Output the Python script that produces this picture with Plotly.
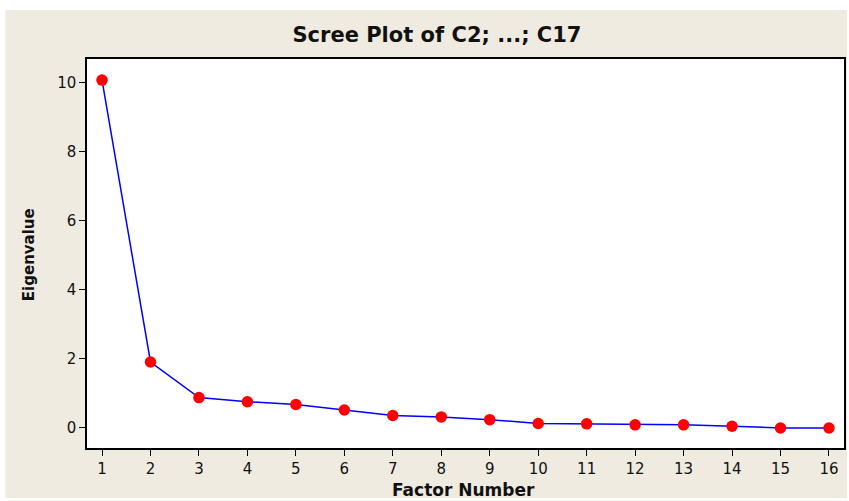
import plotly.graph_objects as go

factor_number = list(range(1, 17))
eigenvalues = [10.07, 1.91, 0.88, 0.76, 0.68, 0.52, 0.36, 0.32, 0.24, 0.13, 0.12, 0.09, 0.09, 0.05, 0.0, 0.0]
x_ticks = list(range(1, 17))
y_ticks = [0, 2, 4, 6, 8, 10]

W, H = 849, 501
L, R, T, B = 87, 3, 59, 53
pw = W - L - R
ph = H - T - B

def px_to_paper_x(px):
    return (px - L) / pw

def px_to_paper_y(py):
    return (H - B - py) / ph

fig = go.Figure()
fig.add_trace(go.Scatter(
    x=factor_number, y=eigenvalues, mode="lines+markers",
    line=dict(color="#0000FF", width=1.5),
    marker=dict(color="#FF0000", size=11.5, line=dict(width=0)),
    showlegend=False, cliponaxis=False,
))

beige = "#EFEBE1"
fig.add_shape(type="rect", xref="paper", yref="paper",
              x0=px_to_paper_x(5), x1=px_to_paper_x(849),
              y0=px_to_paper_y(498), y1=px_to_paper_y(10),
              fillcolor=beige, line=dict(width=0), layer="below")
fig.add_shape(type="rect", xref="paper", yref="paper",
              x0=0, x1=1, y0=0, y1=1,
              fillcolor="white", line=dict(width=0), layer="below")

font_family = "DejaVu Sans, Verdana, sans-serif"
fig.update_layout(
    width=W, height=H,
    margin=dict(l=L, r=R, t=T, b=B),
    paper_bgcolor="white", plot_bgcolor="white",
    title=dict(text="<b>Scree Plot of C2; ...; C17</b>", x=(296 + 578) / 2 / W, xanchor="center",
               y=1 - 35 / H, yanchor="middle",
               font=dict(family=font_family, size=21, color="#111111")),
    font=dict(family=font_family, color="#111111"),
)
fig.add_annotation(text="<b>Factor Number</b>", xref="paper", yref="paper",
                   x=px_to_paper_x(464), y=px_to_paper_y(490), xanchor="center", yanchor="middle",
                   showarrow=False, font=dict(size=17, family=font_family, color="#111111"))
fig.add_annotation(text="<b>Eigenvalue</b>", xref="paper", yref="paper", textangle=-90,
                   x=px_to_paper_x(29), y=px_to_paper_y(255), xanchor="center", yanchor="middle",
                   showarrow=False, font=dict(size=15, family=font_family, color="#111111"))
fig.update_xaxes(
    range=[0.69, 16.31], tickmode="array", tickvals=x_ticks, ticktext=[str(t) for t in x_ticks],
    showgrid=False, zeroline=False, showline=True, linecolor="black", linewidth=1.5, mirror=True,
    ticks="outside", ticklen=6, tickcolor="black", tickwidth=1,
    tickfont=dict(size=15, family=font_family),
)
fig.update_yaxes(
    range=[-0.58, 10.68], tickmode="array", tickvals=y_ticks, ticktext=[str(t) for t in y_ticks],
    showgrid=False, zeroline=False, showline=True, linecolor="black", linewidth=1.5, mirror=True,
    ticks="outside", ticklen=6, tickcolor="black", tickwidth=1,
    tickfont=dict(size=15, family=font_family),
)

fig.write_html("out.html", config={"displayModeBar": False},
               post_script="document.body.style.margin='0px';document.body.style.overflow='hidden';")
